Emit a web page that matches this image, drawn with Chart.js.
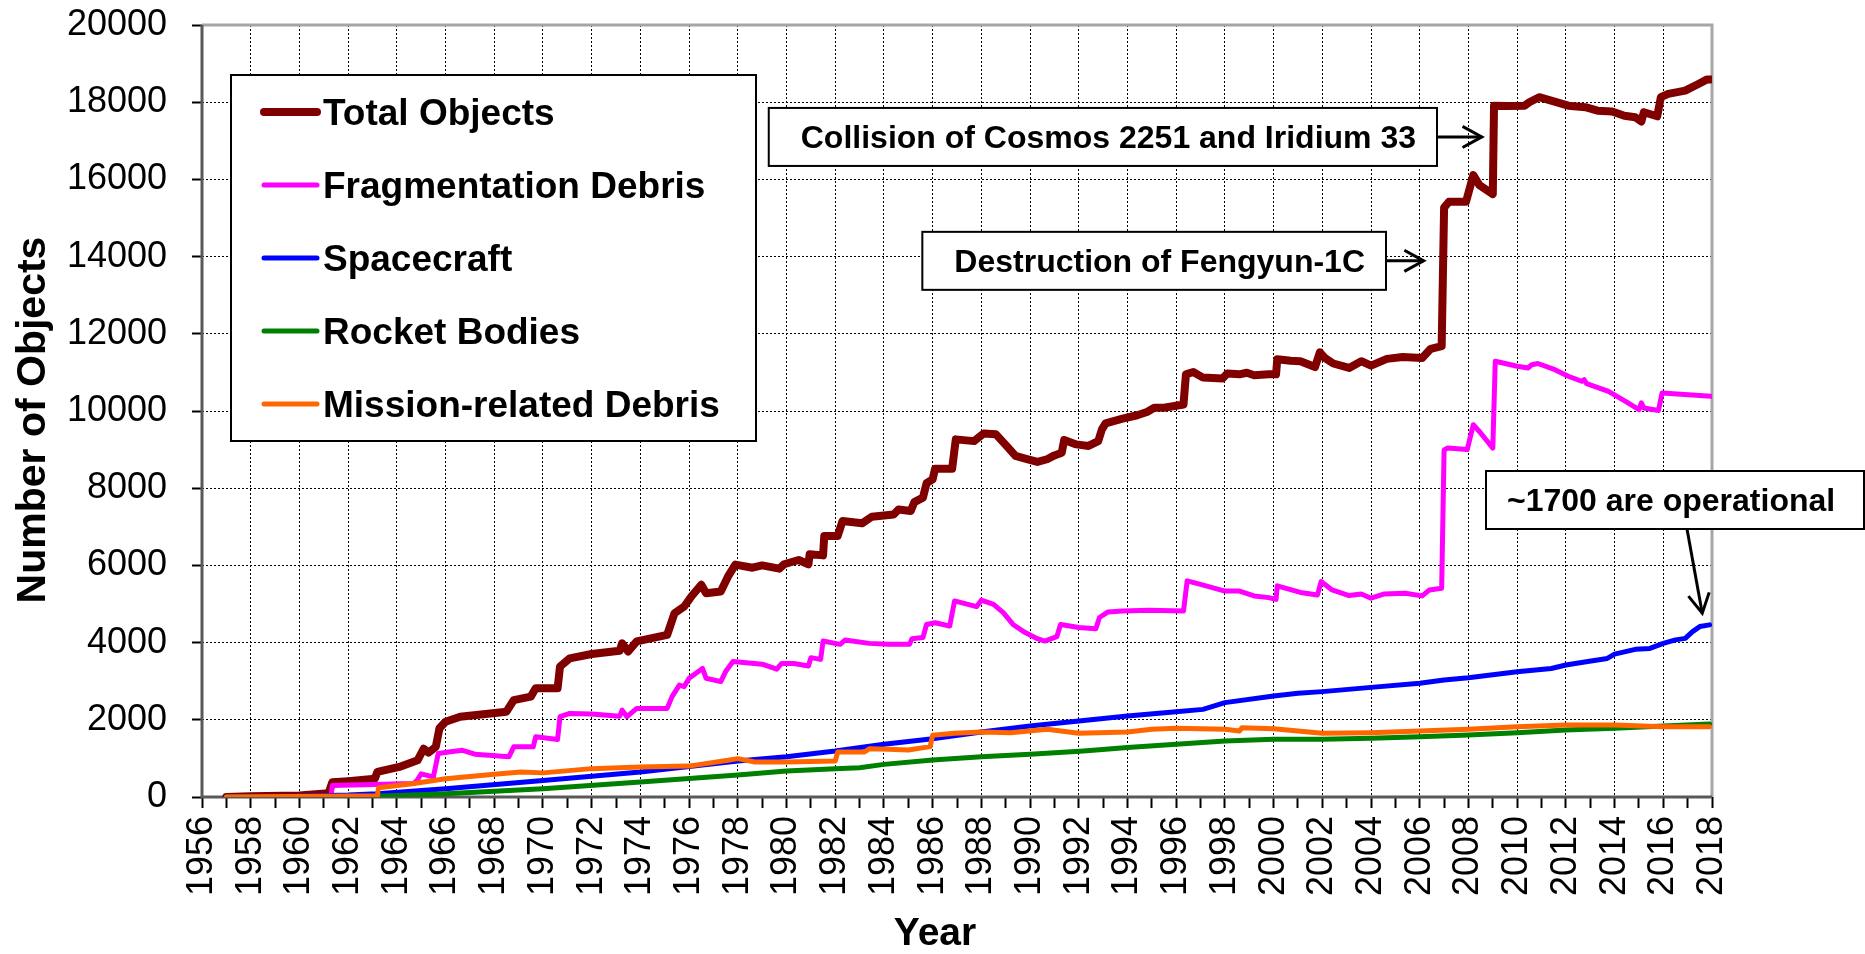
<!DOCTYPE html>
<html>
<head>
<meta charset="utf-8">
<title>Objects in Earth Orbit by Type</title>
<script src="https://cdn.jsdelivr.net/npm/chart.js@4.4.0/dist/chart.umd.min.js"></script>
<style>
    html, body { margin: 0; padding: 0; background: #fff; }
    #wrap { width: 1865px; height: 954px; }
</style>
</head>
<body>
<div id="wrap"><canvas id="debrisChart" width="1865" height="954"></canvas></div>
<script>
// series values (year, number of objects)
var seriesNames = ['Total Objects', 'Fragmentation Debris', 'Spacecraft', 'Rocket Bodies', 'Mission-related Debris'];
var seriesColors = ['#800000', '#ff00ff', '#0000ff', '#008000', '#ff6600'];

var totalYears = [1957.0, 1958.0, 1960.0, 1961.2, 1961.35, 1962.0, 1963.1, 1963.2, 1964.1, 1964.85, 1965.1, 1965.3, 1965.6, 1965.75, 1966.0, 1966.6, 1968.5, 1968.8, 1969.5, 1969.7, 1970.6, 1970.7, 1971.1, 1972.0, 1973.15, 1973.25, 1973.5, 1973.85, 1975.1, 1975.4, 1975.8, 1976.1, 1976.5, 1976.7, 1977.3, 1977.6, 1977.9, 1978.6, 1979.0, 1979.7, 1979.9, 1980.5, 1980.9, 1980.95, 1981.5, 1981.55, 1982.1, 1982.3, 1983.1, 1983.5, 1984.4, 1984.6, 1985.1, 1985.25, 1985.6, 1985.75, 1986.0, 1986.1, 1986.8, 1986.95, 1987.7, 1988.1, 1988.6, 1989.1, 1989.4, 1989.8, 1990.3, 1990.7, 1991.0, 1991.3, 1991.4, 1991.9, 1992.4, 1992.8, 1992.95, 1993.1, 1993.8, 1994.4, 1994.8, 1995.1, 1995.5, 1996.3, 1996.4, 1996.7, 1997.1, 1997.9, 1998.1, 1998.6, 1998.9, 1999.2, 1999.8, 2000.1, 2000.15, 2000.7, 2001.1, 2001.7, 2001.9, 2002.1, 2002.45, 2003.1, 2003.6, 2004.0, 2004.65, 2005.3, 2006.1, 2006.45, 2006.9, 2007.0, 2007.2, 2007.9, 2008.2, 2008.45, 2009.0, 2009.05, 2009.6, 2010.3, 2010.5, 2010.9, 2011.5, 2012.1, 2012.8, 2013.3, 2013.9, 2014.4, 2014.85, 2015.1, 2015.2, 2015.75, 2015.9, 2016.2, 2016.9, 2017.4, 2017.8, 2017.95];
var totalCounts = [0, 20, 40, 100, 380, 410, 476, 650, 780, 950, 1250, 1150, 1300, 1780, 1950, 2080, 2210, 2510, 2600, 2815, 2815, 3380, 3590, 3705, 3790, 3980, 3770, 4030, 4200, 4760, 4935, 5200, 5500, 5280, 5325, 5715, 6020, 5940, 6000, 5915, 6030, 6140, 6030, 6290, 6260, 6760, 6760, 7150, 7090, 7260, 7320, 7450, 7410, 7640, 7755, 8130, 8230, 8505, 8505, 9265, 9220, 9420, 9395, 9050, 8835, 8765, 8680, 8750, 8850, 8920, 9250, 9135, 9095, 9220, 9525, 9680, 9800, 9890, 9975, 10085, 10085, 10170, 10950, 11010, 10865, 10840, 10970, 10950, 10990, 10925, 10950, 10950, 11340, 11300, 11290, 11140, 11520, 11375, 11230, 11115, 11290, 11175, 11350, 11400, 11375, 11610, 11680, 15270, 15420, 15420, 16110, 15850, 15620, 17910, 17900, 17910, 18000, 18130, 18020, 17910, 17870, 17780, 17760, 17650, 17610, 17500, 17740, 17635, 18130, 18215, 18300, 18460, 18590, 18590];

var fragYears = [1957.0, 1961.3, 1961.35, 1964.7, 1964.85, 1965.0, 1965.5, 1965.7, 1966.2, 1966.7, 1967.2, 1968.6, 1968.8, 1969.6, 1969.7, 1970.6, 1970.7, 1971.1, 1972.0, 1973.15, 1973.25, 1973.45, 1973.85, 1975.1, 1975.3, 1975.6, 1975.8, 1976.0, 1976.55, 1976.7, 1977.3, 1977.5, 1977.8, 1979.0, 1979.6, 1979.8, 1980.3, 1980.9, 1981.0, 1981.4, 1981.5, 1982.2, 1982.4, 1983.4, 1984.2, 1985.05, 1985.15, 1985.6, 1985.75, 1986.1, 1986.7, 1986.9, 1987.8, 1988.0, 1988.5, 1988.9, 1989.3, 1989.8, 1990.3, 1990.6, 1991.1, 1991.25, 1992.0, 1992.7, 1992.85, 1993.2, 1993.8, 1994.9, 1996.3, 1996.45, 1997.0, 1998.0, 1998.6, 1999.2, 1999.8, 2000.1, 2000.15, 2001.1, 2001.8, 2001.95, 2002.4, 2003.1, 2003.6, 2004.0, 2004.55, 2005.4, 2006.1, 2006.4, 2006.9, 2007.0, 2007.15, 2007.95, 2008.2, 2008.5, 2009.0, 2009.1, 2010.0, 2010.45, 2010.6, 2010.85, 2011.55, 2012.1, 2012.65, 2012.75, 2012.85, 2013.75, 2014.45, 2015.0, 2015.1, 2015.2, 2015.8, 2015.95, 2017.95];
var fragCounts = [0, 0, 300, 350, 450, 600, 520, 1125, 1170, 1210, 1110, 1040, 1300, 1300, 1560, 1490, 2080, 2165, 2150, 2095, 2250, 2080, 2295, 2295, 2600, 2900, 2860, 3075, 3330, 3075, 2990, 3250, 3510, 3440, 3310, 3460, 3460, 3395, 3610, 3565, 4040, 3955, 4065, 3980, 3955, 3955, 4100, 4130, 4470, 4515, 4430, 5080, 4930, 5100, 4990, 4775, 4470, 4260, 4100, 4040, 4155, 4470, 4390, 4360, 4650, 4795, 4820, 4835, 4820, 5600, 5510, 5335, 5335, 5210, 5165, 5120, 5470, 5300, 5235, 5580, 5365, 5220, 5260, 5150, 5260, 5280, 5210, 5365, 5410, 8990, 9040, 9000, 9645, 9430, 9040, 11290, 11160, 11115, 11200, 11230, 11070, 10900, 10770, 10810, 10710, 10510, 10250, 10035, 10210, 10080, 10015, 10465, 10380];

var craftYears = [1957.0, 1960.0, 1962.0, 1963.2, 1966.0, 1970.0, 1974.0, 1978.0, 1980.0, 1982.0, 1984.0, 1986.0, 1988.0, 1990.0, 1992.0, 1994.0, 1996.0, 1997.1, 1998.0, 2000.0, 2001.0, 2002.0, 2004.0, 2006.0, 2007.0, 2008.0, 2010.0, 2011.4, 2012.0, 2012.9, 2013.7, 2014.0, 2014.85, 2015.45, 2016.0, 2016.5, 2016.9, 2017.2, 2017.5, 2017.9];
var craftCounts = [0, 20, 50, 87, 215, 430, 650, 930, 1045, 1190, 1365, 1510, 1685, 1840, 1970, 2100, 2210, 2270, 2445, 2615, 2685, 2730, 2840, 2945, 3030, 3090, 3245, 3330, 3420, 3510, 3590, 3700, 3825, 3850, 3980, 4070, 4110, 4285, 4415, 4460];

var rocketYears = [1957.0, 1960.0, 1963.2, 1966.0, 1970.0, 1974.0, 1978.0, 1980.0, 1982.0, 1983.0, 1984.0, 1986.0, 1988.0, 1990.0, 1992.2, 1994.0, 1996.0, 1998.0, 2000.0, 2002.0, 2004.0, 2006.0, 2008.0, 2010.0, 2012.0, 2014.0, 2016.0, 2017.9];
var rocketCounts = [0, 5, 20, 87, 215, 390, 570, 675, 735, 760, 845, 960, 1045, 1105, 1190, 1280, 1365, 1450, 1495, 1495, 1520, 1563, 1607, 1667, 1737, 1780, 1840, 1892];

var missionYears = [1957.0, 1963.2, 1963.25, 1964.7, 1966.0, 1968.0, 1969.1, 1970.0, 1972.0, 1974.0, 1976.0, 1977.6, 1978.0, 1978.7, 1980.0, 1982.0, 1982.1, 1983.2, 1983.4, 1984.2, 1985.0, 1985.9, 1986.0, 1986.9, 1988.0, 1989.2, 1990.7, 1992.0, 1994.0, 1995.0, 1996.0, 1998.0, 1998.6, 1998.7, 2000.0, 2001.0, 2002.0, 2004.0, 2006.0, 2008.0, 2010.0, 2012.0, 2014.0, 2016.0, 2017.9];
var missionCounts = [0, 30, 240, 350, 475, 590, 650, 625, 735, 780, 800, 950, 995, 905, 905, 930, 1165, 1165, 1250, 1235, 1220, 1305, 1600, 1650, 1685, 1665, 1755, 1650, 1685, 1755, 1780, 1755, 1710, 1795, 1770, 1710, 1650, 1667, 1710, 1754, 1823, 1866, 1866, 1823, 1823];

// axis settings
var yearMin = 1956, yearMax = 2018;
var countMin = 0, countMax = 20000;

// callouts: text, arrow tip (year, count)
var noteTexts = ['Collision of Cosmos 2251 and Iridium 33', 'Destruction of Fengyun-1C', '~1700 are operational'];
var noteTipYears = [2008.55, 2006.16, 2017.6];
var noteTipCounts = [17100, 13890, 4760];

var FONT = "'Liberation Sans', Arial, Helvetica, sans-serif";

function toPoints(xs, ys) {
    var pts = [];
    for (var i = 0; i < xs.length; i++) {
        pts.push({ x: xs[i], y: ys[i] });
    }
    return pts;
}

var allSeries = [
    toPoints(totalYears, totalCounts),
    toPoints(fragYears, fragCounts),
    toPoints(craftYears, craftCounts),
    toPoints(rocketYears, rocketCounts),
    toPoints(missionYears, missionCounts)
];
var widths = [8, 5, 5, 5, 5];

var datasets = [];
for (var i = 0; i < allSeries.length; i++) {
    datasets.push({
        label: seriesNames[i],
        data: allSeries[i],
        borderColor: seriesColors[i],
        backgroundColor: seriesColors[i],
        borderWidth: widths[i],
        pointRadius: 0,
        tension: 0,
        fill: false,
        borderJoinStyle: 'round',
        borderCapStyle: 'round',
        order: allSeries.length - i   // later series drawn on top
    });
}

// plot frame: dark left/bottom axes, light grey top/right
var framePlugin = {
    id: 'frame',
    beforeDatasetsDraw: function (chart) {
        var a = chart.chartArea, c = chart.ctx;
        c.save();
        c.setLineDash([]);
        c.lineWidth = 3;
        c.strokeStyle = '#a6a6a6';
        c.beginPath();
        c.moveTo(a.left, a.top); c.lineTo(a.right, a.top); c.lineTo(a.right, a.bottom);
        c.stroke();
        c.strokeStyle = '#595959';
        c.beginPath();
        c.moveTo(a.left, a.top); c.lineTo(a.left, a.bottom); c.lineTo(a.right, a.bottom);
        c.stroke();
        c.restore();
    }
};

function arrowHead(c, x0, y0, x1, y1) {
    var ang = Math.atan2(y1 - y0, x1 - x0), len = 22, spread = 0.5;
    c.beginPath();
    c.moveTo(x1 - len * Math.cos(ang - spread), y1 - len * Math.sin(ang - spread));
    c.lineTo(x1, y1);
    c.lineTo(x1 - len * Math.cos(ang + spread), y1 - len * Math.sin(ang + spread));
    c.stroke();
}

var overlayPlugin = {
    id: 'overlay',
    afterDraw: function (chart) {
        var c = chart.ctx, xs = chart.scales.x, ys = chart.scales.y;
        c.save();
        c.setLineDash([]);
        c.fillStyle = '#000';

        // axis titles
        c.textAlign = 'center';
        c.textBaseline = 'alphabetic';
        c.font = 'bold 39px ' + FONT;
        c.fillText('Year', 935, 945);
        c.font = 'bold 41px ' + FONT;
        c.save();
        c.translate(45, 420);
        c.rotate(-Math.PI / 2);
        c.fillText('Number of Objects', 0, 0);
        c.restore();

        // legend box
        var lx = 231, ly = 75, lw = 525, lh = 366;
        c.fillStyle = '#fff';
        c.fillRect(lx, ly, lw, lh);
        c.strokeStyle = '#000';
        c.lineWidth = 2;
        c.strokeRect(lx, ly, lw, lh);
        c.font = 'bold 37px ' + FONT;
        c.textAlign = 'left';
        c.lineCap = 'round';
        var ds = chart.data.datasets;
        for (var i = 0; i < ds.length; i++) {
            var rowY = 112 + i * 73;
            c.strokeStyle = ds[i].borderColor;
            c.lineWidth = i === 0 ? 8 : 5;
            c.beginPath();
            c.moveTo(264, rowY); c.lineTo(317, rowY);
            c.stroke();
            c.fillStyle = '#000';
            c.fillText(ds[i].label, 323, rowY + 13);
        }

        // callout boxes and arrows
        c.font = 'bold 32px ' + FONT;
        c.lineCap = 'butt';
        var boxH = 58, padL = 32, padR = 21;
        var tips = [];
        for (var k = 0; k < noteTexts.length; k++) {
            tips.push({ x: xs.getPixelForValue(noteTipYears[k]), y: ys.getPixelForValue(noteTipCounts[k]) });
        }
        var boxes = [];
        // two boxes point right to the jumps
        var rights = [1437, 1386];
        for (var k = 0; k < 2; k++) {
            var tw = c.measureText(noteTexts[k]).width;
            boxes.push({ x: rights[k] - tw - padL - padR, y: tips[k].y - boxH / 2, w: tw + padL + padR, tx: rights[k] - tw - padR });
        }
        boxes.push({ x: 1486, y: 471, w: 378, tx: 1507 });

        for (var k = 0; k < boxes.length; k++) {
            var b = boxes[k];
            c.fillStyle = '#fff';
            c.fillRect(b.x, b.y, b.w, boxH);
            c.strokeStyle = '#000';
            c.lineWidth = 2;
            c.strokeRect(b.x, b.y, b.w, boxH);
            c.fillStyle = '#000';
            c.fillText(noteTexts[k], b.tx, b.y + boxH / 2 + 11);

            var sx, sy;
            if (k < 2) { sx = b.x + b.w; sy = tips[k].y; }
            else { sx = 1687; sy = b.y + boxH; }
            c.lineWidth = 3;
            c.beginPath();
            c.moveTo(sx, sy); c.lineTo(tips[k].x, tips[k].y);
            c.stroke();
            arrowHead(c, sx, sy, tips[k].x, tips[k].y);
        }
        c.restore();
    }
};

var tickFont = { family: FONT, size: 36 };

var chart = new Chart(document.getElementById('debrisChart').getContext('2d'), {
    type: 'line',
    data: { datasets: datasets },
    options: {
        responsive: false,
        animation: false,
        events: [],
        layout: { padding: { top: 25, right: 153, left: 0, bottom: 0 } },
        plugins: {
            legend: { display: false },
            tooltip: { enabled: false },
            title: { display: false }
        },
        scales: {
            x: {
                type: 'linear',
                min: yearMin,
                max: yearMax,
                afterFit: function (s) {
                    s.height = 157;
                    s.paddingLeft = 0;
                    s.paddingRight = 0;
                },
                ticks: {
                    stepSize: 1,
                    autoSkip: false,
                    maxRotation: 90,
                    minRotation: 90,
                    padding: 8,
                    color: '#000',
                    font: tickFont,
                    callback: function (v) { return v % 2 === 0 ? String(v) : ''; }
                },
                grid: {
                    color: function (ctx) {
                        var v = ctx.tick ? ctx.tick.value : 0;
                        return (v % 2 === 0 && v > yearMin && v < yearMax) ? '#000' : 'rgba(0,0,0,0)';
                    },
                    lineWidth: 1,
                    tickLength: 11,
                    tickColor: '#000',
                    tickWidth: 2
                },
                border: { display: false, dash: [2, 2] }
            },
            y: {
                type: 'linear',
                min: countMin,
                max: countMax,
                afterFit: function (s) {
                    s.width = 202;
                    s.paddingTop = 0;
                    s.paddingBottom = 0;
                },
                ticks: {
                    stepSize: 1000,
                    padding: 25,
                    color: '#000',
                    font: tickFont,
                    callback: function (v) { return v % 2000 === 0 ? String(v) : ''; }
                },
                grid: {
                    color: function (ctx) {
                        var v = ctx.tick ? ctx.tick.value : 0;
                        return (v % 2000 === 0 && v > countMin && v < countMax) ? '#000' : 'rgba(0,0,0,0)';
                    },
                    lineWidth: 1,
                    tickLength: 10,
                    tickColor: '#000',
                    tickWidth: 2
                },
                border: { display: false, dash: [2, 2] }
            }
        }
    },
    plugins: [framePlugin, overlayPlugin]
});
</script>
</body>
</html>
